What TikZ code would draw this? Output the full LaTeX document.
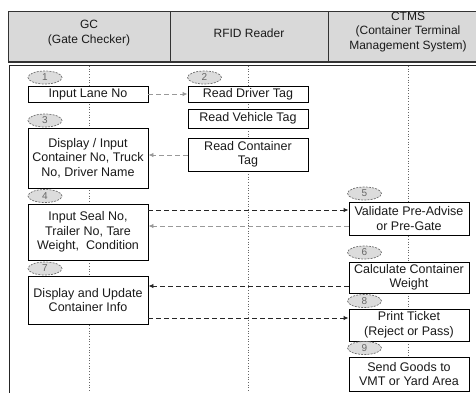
\documentclass[tikz,border=0pt]{standalone}
\usepackage{fontspec}
\setmainfont{Liberation Sans}
\usetikzlibrary{arrows.meta,shapes.geometric}
\definecolor{hdrgray}{HTML}{D9D9D9}
\definecolor{txt}{HTML}{1A1A1A}
\definecolor{ellfill}{HTML}{DCDCDC}
\definecolor{ellline}{HTML}{6E6E6E}
\begin{document}
\begin{tikzpicture}[x=1pt,y=-1pt,
  stepbox/.style={draw=black,line width=0.9pt,fill=white,minimum width=120pt,inner sep=2pt,align=center,text=txt,font=\fontsize{12.5}{14.5}\selectfont},
  numell/.style={ellipse,draw=ellline,line width=0.7pt,dash pattern=on 2pt off 1.2pt,fill=ellfill,minimum width=34pt,minimum height=13pt,inner sep=0pt,text=black!60,font=\fontsize{10}{10}\selectfont},
  hdrtext/.style={align=center,text=txt,font=\fontsize{12}{14.5}\selectfont},
  lifeline/.style={draw=black!60,line width=0.7pt,dotted},
  msgdark/.style={draw=black!85,line width=0.9pt,dash pattern=on 5pt off 3pt,-{Latex[length=5pt,width=4.5pt]}},
  msglight/.style={draw=gray!80,line width=0.9pt,dash pattern=on 5pt off 3pt,-{Latex[length=5pt,width=4.5pt]}}
]
\useasboundingbox (0,0) rectangle (476,392);
\clip (0,0) rectangle (476,392);
% header
\draw[fill=hdrgray,draw=black!80,line width=1pt] (8,11) rectangle (490,62);
\draw[black!80,line width=1.6pt] (8,62) -- (490,62);
\draw[black!80,line width=1pt] (170,11) -- (170,62);
\draw[black!80,line width=1pt] (328,11) -- (328,62);
\node[hdrtext] (hgc) at (89,33) {GC\\(Gate Checker)};
\node[hdrtext] (hrfid) at (249,33) {RFID Reader};
\node[hdrtext] (hctms) at (408,32) {CTMS\\(Container Terminal\\Management System)};
% body frame
\draw[black!85,line width=0.9pt] (9,400) -- (9,65) -- (490,65);
% lifelines
\coordinate (gtop) at (89,66);
\coordinate (gbot) at (89,392);
\coordinate (rtop) at (248,66);
\coordinate (rbot) at (248,392);
\coordinate (ctop) at (408,66);
\coordinate (cbot) at (408,392);
\draw[lifeline] (gtop) -- (gbot);
\draw[lifeline] (rtop) -- (rbot);
\draw[lifeline] (ctop) -- (cbot);
% GC boxes
\node[stepbox,minimum height=16pt] (b1) at (88,94) {Input Lane No};
\node[stepbox,minimum height=60pt] (b3) at (88,158) {Display / Input\\Container No, Truck\\No, Driver Name};
\node[stepbox,minimum height=56pt] (b4) at (88,232) {Input Seal No,\\Trailer No, Tare\\Weight,\ \ Condition};
\node[stepbox,minimum height=48pt] (b7) at (88,300) {Display and Update\\Container Info};
% RFID boxes
\node[stepbox,minimum height=16pt] (b2) at (248,94) {Read Driver Tag};
\node[stepbox,minimum height=19pt] (bv) at (248,118.5) {Read Vehicle Tag};
\node[stepbox,minimum height=33pt] (bc) at (248,154.5) {Read Container\\Tag};
% CTMS boxes
\node[stepbox,minimum height=33pt] (b5) at (409,218.5) {Validate Pre-Advise\\or Pre-Gate};
\node[stepbox,minimum height=31pt] (b6) at (409,277.5) {Calculate Container\\Weight};
\node[stepbox,minimum height=32pt] (b8) at (409,325) {Print Ticket\\(Reject or Pass)};
\node[stepbox,minimum height=34pt] (b9) at (409,374) {Send Goods to\\VMT or Yard Area};
% number ellipses
\node[numell] (e1) at (45,77.5) {1};
\node[numell] (e2) at (204.5,77.5) {2};
\node[numell] (e3) at (45,120.5) {3};
\node[numell] (e4) at (45,196) {4};
\node[numell] (e5) at (364.5,193.5) {5};
\node[numell] (e7) at (45,268.5) {7};
\node[numell] (e6) at (364.5,252.5) {6};
\node[numell] (e8) at (364.5,301) {8};
\node[numell] (e9) at (364.5,348) {9};
% messages
\coordinate (m2) at (0,155);
\coordinate (m3) at (0,210);
\coordinate (m4) at (0,226);
\coordinate (m5) at (0,286);
\coordinate (m6) at (0,318);
\draw[msglight] (b1.east) -- (b2.west);
\draw[msglight] (bc.west |- m2) -- (b3.east |- m2);
\draw[msgdark] (b4.east |- m3) -- (b5.west |- m3);
\draw[msglight] (b5.west |- m4) -- (b4.east |- m4);
\draw[msgdark] (b6.west |- m5) -- (b7.east |- m5);
\draw[msgdark] (b7.east |- m6) -- (b8.west |- m6);
\end{tikzpicture}
\end{document}
